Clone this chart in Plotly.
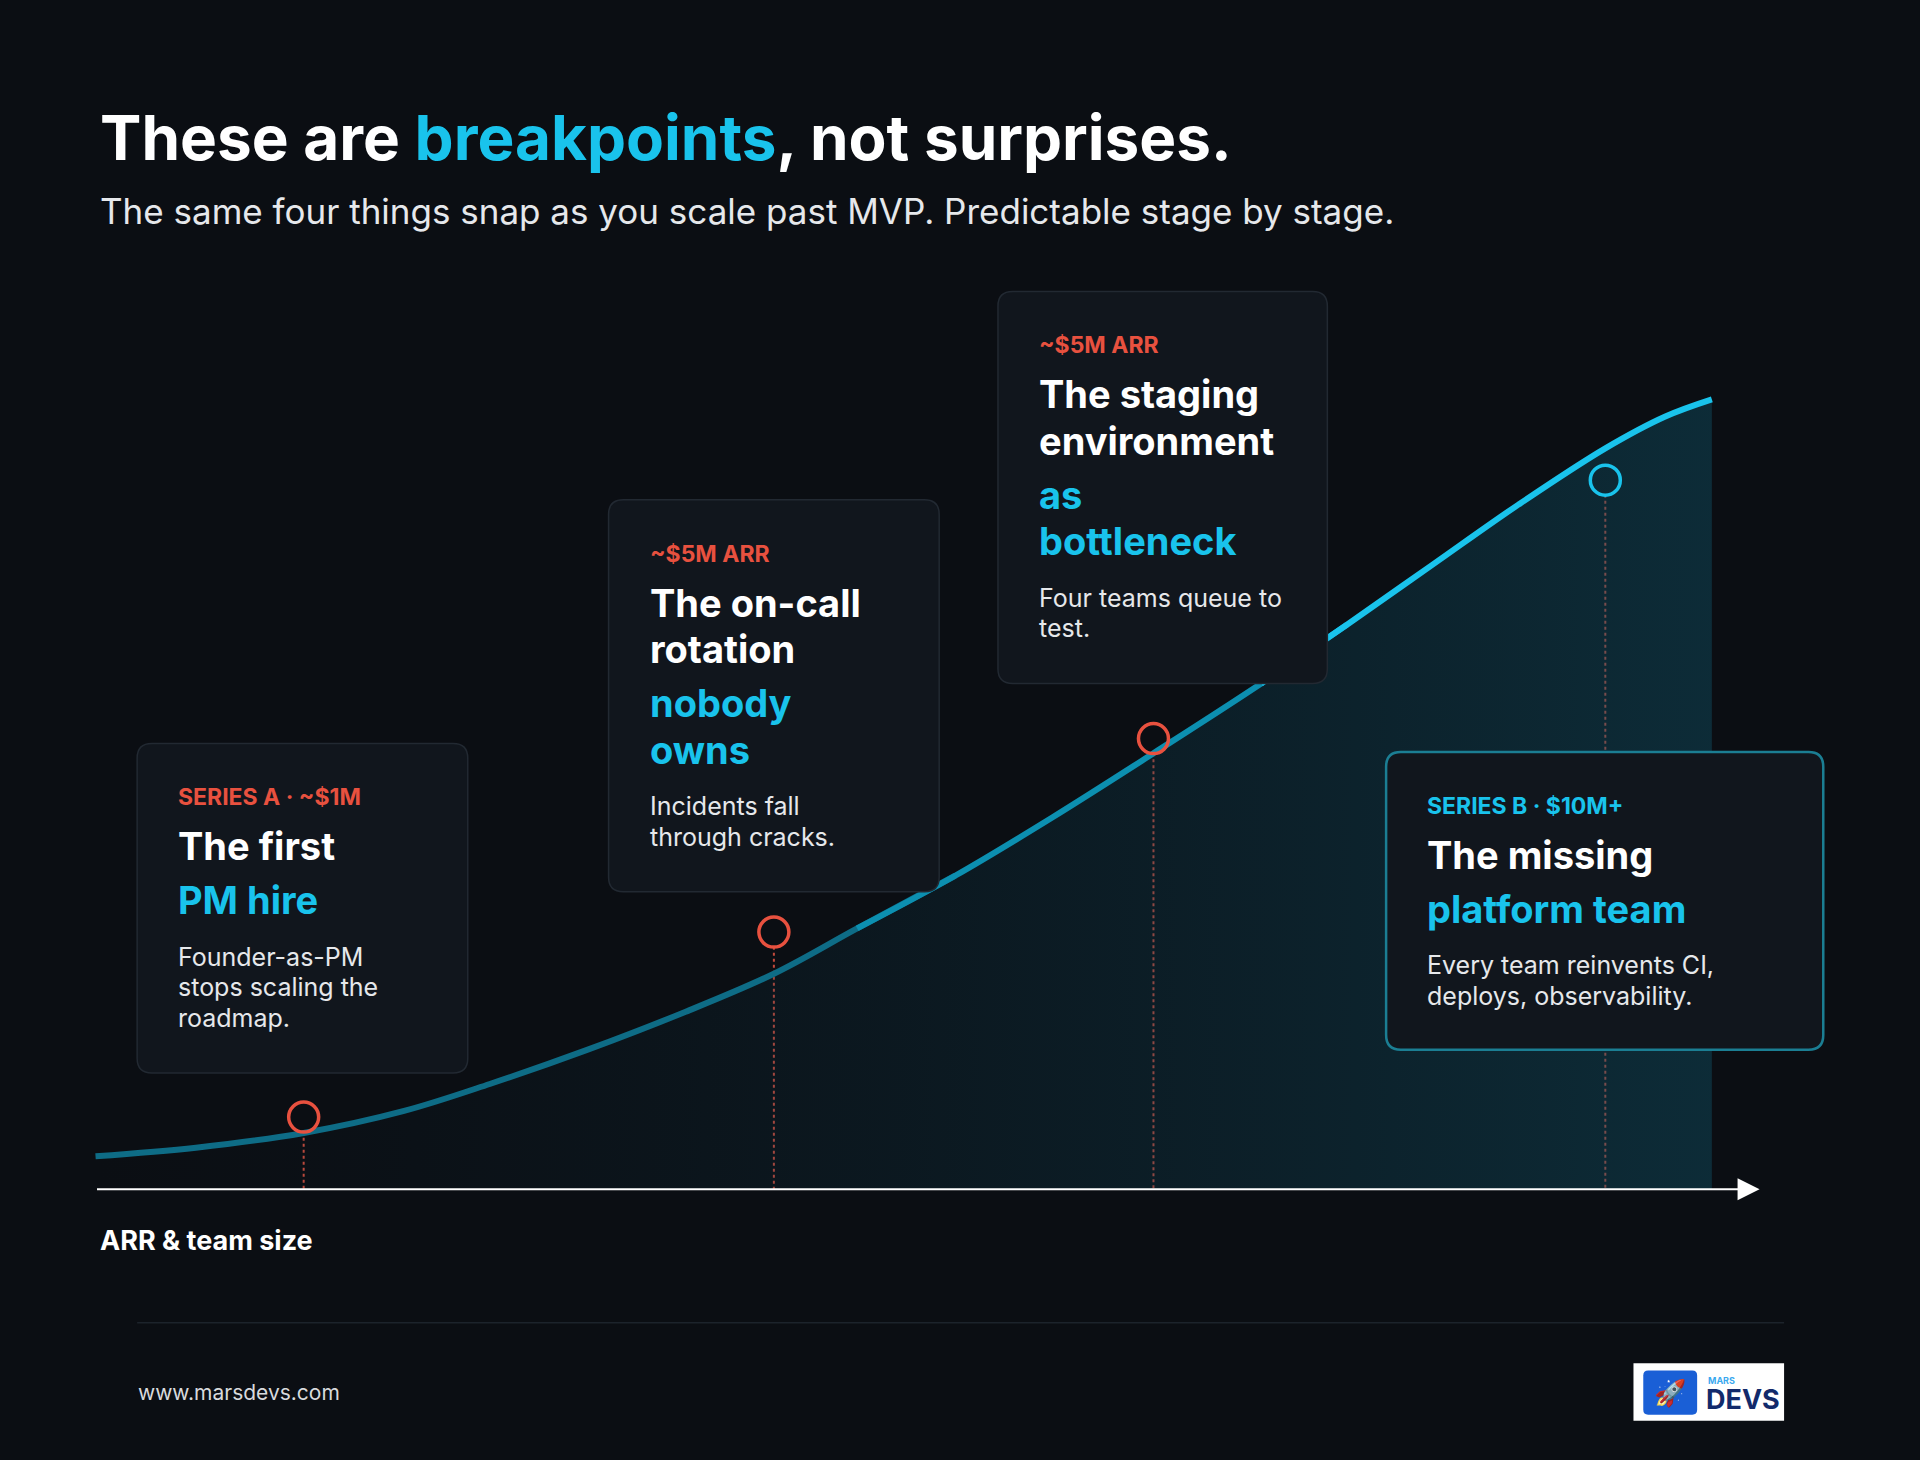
import plotly.graph_objects as go

BG = "#0b0e13"
CYAN = "#19c3ec"
RED = "#e8513f"
FONT = "Inter"

# growth curve (reference units, y down)
curve_x = [78, 160, 248, 330, 400, 480, 560, 632, 700, 780, 860, 942, 1030, 1100, 1170, 1240, 1311, 1360, 1398]
curve_y = [944, 937, 925, 907, 885, 857, 826, 795, 758, 715, 667, 615, 558, 510, 461, 412, 366, 340, 326]
axis_y = 971

# breakpoints
bp_x = [248, 632, 942, 1311]
bp_y = [912, 761, 603, 392]

# cards: (x0, y0, x1, y1, label, label colour, heading lines, highlight lines, body lines, accent border)
cards = [
    (112, 607, 382, 876, "SERIES A · ~$1M", RED, ["The first"], ["PM hire"],
     ["Founder-as-PM", "stops scaling the", "roadmap."], False),
    (497, 408, 767, 728, "~$5M ARR", RED, ["The on-call", "rotation"], ["nobody", "owns"],
     ["Incidents fall", "through cracks."], False),
    (815, 238, 1084, 558, "~$5M ARR", RED, ["The staging", "environment"], ["as", "bottleneck"],
     ["Four teams queue to", "test."], False),
    (1132, 614, 1489, 857, "SERIES B · $10M+", CYAN, ["The missing"], ["platform team"],
     ["Every team reinvents CI,", "deploys, observability."], True),
]

fig = go.Figure()

# fill under curve
fig.add_trace(go.Scatter(x=[curve_x[0], curve_x[-1]], y=[axis_y, axis_y], mode="lines",
                         line=dict(width=0), hoverinfo="skip", showlegend=False))
fig.add_trace(go.Scatter(x=curve_x + [curve_x[-1]], y=curve_y + [axis_y], mode="lines", fill="tonexty",
                         fillgradient=dict(type="horizontal",
                                           colorscale=[[0, "rgba(10,40,55,0.0)"], [1, "rgba(15,80,100,0.45)"]]),
                         line=dict(width=0), hoverinfo="skip", showlegend=False))
# curve, darker on the left, brighter to the right
segs = [(0, 10, "#0e6c86"), (8, 14, "#0c8fb0"), (12, 19, CYAN)]
for a, b, c in segs:
    fig.add_trace(go.Scatter(x=curve_x[a:b], y=curve_y[a:b], mode="lines",
                             line=dict(color=c, width=6, shape="spline"), hoverinfo="skip", showlegend=False))

shapes = []
# dotted drops
for x, y in zip(bp_x, bp_y):
    shapes.append(dict(type="line", x0=x, x1=x, y0=y + 12, y1=axis_y, layer="below",
                       line=dict(color="#c24a3c", width=2, dash="dot")))


def rounded(x0, y0, x1, y1, r=12):
    return (f"M{x0+r},{y0} L{x1-r},{y0} Q{x1},{y0} {x1},{y0+r} L{x1},{y1-r} Q{x1},{y1} {x1-r},{y1} "
            f"L{x0+r},{y1} Q{x0},{y1} {x0},{y1-r} L{x0},{y0+r} Q{x0},{y0} {x0+r},{y0} Z")


ann = []
for x0, y0, x1, y1, label, lc, heads, highs, body, accent in cards:
    shapes.append(dict(type="path", path=rounded(x0, y0, x1, y1), fillcolor="#11161d", layer="above",
                       line=dict(color="#1b7e93" if accent else "#222932", width=2.5 if accent else 1.5)))
    tx = x0 + 32
    y = y0 + 44
    ann.append(dict(x=tx, y=y, text=f"<b>{label}</b>", font=dict(size=23, color=lc)))
    y += 40
    for h in heads:
        ann.append(dict(x=tx, y=y, text=f"<b>{h}</b>", font=dict(size=38, color="white")))
        y += 38
    y += 6
    for h in highs:
        ann.append(dict(x=tx, y=y, text=f"<b>{h}</b>", font=dict(size=38, color=CYAN)))
        y += 38
    y += 8
    for b in body:
        ann.append(dict(x=tx, y=y, text=b, font=dict(size=25, color="#e6e8eb")))
        y += 25

# axis arrow
ann.append(dict(x=1437, y=axis_y, ax=78, ay=axis_y, axref="x", ayref="y", showarrow=True, arrowhead=2,
                arrowsize=2.2, arrowwidth=2, arrowcolor="white", text="", xanchor="center"))
ann.append(dict(x=80, y=1013, text="<b>ARR & team size</b>", font=dict(size=27, color="white")))
# title
ann.append(dict(x=80, y=112, text=f"<b>These are <span style='color:{CYAN}'>breakpoints</span>, not surprises.</b>",
                font=dict(size=62, color="white")))
ann.append(dict(x=80, y=172, text="The same four things snap as you scale past MVP. Predictable stage by stage.",
                font=dict(size=35, color="#e6e8eb")))
# footer
shapes.append(dict(type="line", x0=112, x1=1457, y0=1080, y1=1080, line=dict(color="#1c232b", width=1.5)))
ann.append(dict(x=111, y=1137, text="www.marsdevs.com", font=dict(size=21, color="#d8dadd")))
shapes.append(dict(type="rect", x0=1334, x1=1457, y0=1113, y1=1160, fillcolor="white", line=dict(width=0)))
shapes.append(dict(type="path", path=rounded(1342, 1119, 1386, 1155, 4), fillcolor="#1a5fd6", line=dict(width=0)))
ann.append(dict(x=1364, y=1137, text="🚀", xanchor="center", font=dict(size=26, color="white")))
ann.append(dict(x=1393, y=1127, text="<b>MARS</b>", font=dict(size=9, color="#3aa9ef")))
ann.append(dict(x=1392, y=1143, text="<b>DEVS</b>", font=dict(size=27, color="#122a6b")))

for a in ann:
    a.setdefault("showarrow", False)
    a.setdefault("xanchor", "left")
    a.setdefault("yanchor", "middle")
    a.setdefault("xref", "x")
    a.setdefault("yref", "y")
    a.setdefault("font", {})
    a["font"].setdefault("family", FONT)

# breakpoint circles on top
fig.add_trace(go.Scatter(x=bp_x, y=bp_y, mode="markers", hoverinfo="skip", showlegend=False,
                         marker=dict(symbol="circle-open", size=30, color=[RED, RED, RED, CYAN],
                                     line=dict(width=3.5))))

fig.update_layout(
    width=1920, height=1460, margin=dict(l=0, r=0, t=0, b=0),
    paper_bgcolor=BG, plot_bgcolor=BG, shapes=shapes, annotations=ann,
    xaxis=dict(range=[0, 1568], visible=False, fixedrange=True),
    yaxis=dict(range=[1192, 0], visible=False, fixedrange=True),
)
fig.write_html("out.html", config={"displayModeBar": False},
               post_script="document.body.style.margin='0';document.body.style.background='#0b0e13';")
